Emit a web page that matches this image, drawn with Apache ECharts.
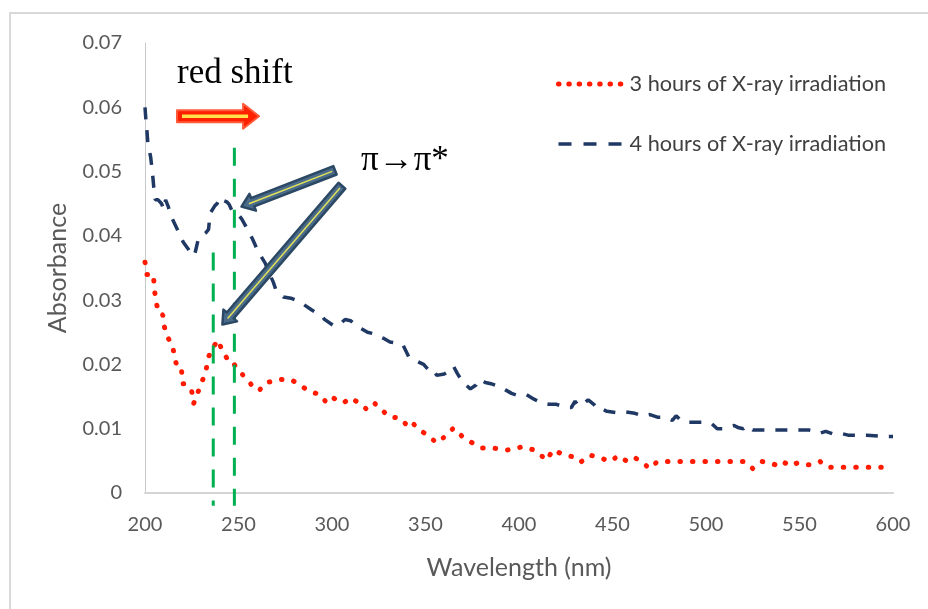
<!DOCTYPE html>
<html>
<head>
<meta charset="utf-8">
<script src="https://cdn.jsdelivr.net/npm/echarts@6/dist/echarts.min.js"></script>
<style>
  html, body { margin: 0; padding: 0; background: #fff; }
  #main { width: 928px; height: 609px; }
</style>
</head>
<body>
<div id="main"></div>
<script>
// series names
var seriesNames = ['3 hours of X-ray irradiation', '4 hours of X-ray irradiation'];

// 3 hours (red dots), wavelength in nm / absorbance
var wl3h = [200, 201, 204.5, 205, 206, 207.5, 209.5, 210, 211, 212, 214.8, 216, 218, 219.6, 220.2, 221.4,
  225, 226, 230.3, 232.6, 233.5, 235.7, 239.2, 241, 243.7, 245.5, 249, 253.5, 257, 261, 264.2, 266.8,
  270.4, 274.4, 278.4, 283.8, 288.2, 293.6, 297.2, 300.5, 306, 310, 315, 319, 323, 327, 331, 336, 341,
  343, 347, 351, 356, 358, 360, 365, 370, 375, 380, 386, 394, 402, 408, 415, 418, 422, 429, 433, 438,
  443, 449, 453, 458, 462, 466, 470, 474, 480, 486, 494, 501, 507, 514, 521, 525, 530, 535, 538, 541,
  545, 549, 553, 557, 561, 565, 573, 580, 586, 592, 600];
var ab3h = [0.0359, 0.0340, 0.0340, 0.0317, 0.0296, 0.0279, 0.0277, 0.0262, 0.0262, 0.0243, 0.0228, 0.0208,
  0.0189, 0.0189, 0.0170, 0.0170, 0.0158, 0.0139, 0.0172, 0.0189, 0.0208, 0.0224, 0.0238, 0.0223, 0.0210,
  0.0210, 0.0194, 0.0180, 0.0168, 0.0159, 0.0171, 0.0173, 0.0176, 0.0177, 0.0176, 0.0166, 0.0158, 0.0153,
  0.0140, 0.0148, 0.0140, 0.0148, 0.0139, 0.0129, 0.0139, 0.0128, 0.0118, 0.0117, 0.0103, 0.0109, 0.0098,
  0.0090, 0.0078, 0.0082, 0.0087, 0.0101, 0.0087, 0.0078, 0.0070, 0.0070, 0.0067, 0.0072, 0.0067, 0.0051,
  0.0067, 0.0062, 0.0056, 0.0048, 0.0059, 0.0055, 0.0049, 0.0058, 0.0049, 0.0055, 0.0047, 0.0038, 0.0049,
  0.0049, 0.0049, 0.0049, 0.0049, 0.0049, 0.0049, 0.0049, 0.0038, 0.0049, 0.0046, 0.0043, 0.0049, 0.0042,
  0.0047, 0.0044, 0.0044, 0.0049, 0.0040, 0.0040, 0.0040, 0.0040, 0.0040, 0.0040];

// 4 hours (navy dashes)
var wl4h = [200, 200.5, 201, 201.5, 203, 204, 204.8, 205.5, 207, 208.9, 210, 211, 212.5, 213.5, 217, 220.5,
  223, 225, 226.5, 228.5, 230, 232.6, 234, 234.8, 237.4, 238.5, 240.1, 242, 243.7, 245, 246.4, 248, 250,
  252, 255.2, 257.5, 260.6, 264.2, 266, 268.6, 270, 274, 278, 283, 289, 295, 296, 301, 304, 307, 310, 313,
  316, 319, 322, 324.6, 328, 331, 335, 338, 341, 346, 349, 352, 354, 356, 360, 363, 365, 367, 370, 374,
  377, 379, 382, 385, 388, 390, 393, 396, 399, 404, 408, 412, 416, 420, 423, 426, 428, 430, 431.5, 435,
  437, 440, 442, 445, 447, 452, 457, 462, 466, 470, 474, 478, 482, 484, 487, 490, 494, 498, 503, 506, 509,
  512, 515, 517, 520, 522, 525, 534, 540, 549, 555, 558, 561, 564, 568, 572, 576, 580, 586, 590, 594, 600];
var ab4h = [0.0600, 0.0580, 0.0565, 0.0545, 0.0523, 0.0498, 0.0472, 0.0456, 0.0456, 0.0450, 0.0441, 0.0456,
  0.0445, 0.0433, 0.0412, 0.0390, 0.0380, 0.0370, 0.0370, 0.0395, 0.0399, 0.0405, 0.0410, 0.0435, 0.0447,
  0.0450, 0.0460, 0.0455, 0.0453, 0.0449, 0.0440, 0.0435, 0.0433, 0.0425, 0.0408, 0.0395, 0.0375, 0.0358,
  0.0345, 0.0328, 0.0316, 0.0305, 0.0303, 0.0297, 0.0285, 0.0274, 0.0270, 0.0260, 0.0262, 0.0270, 0.0268,
  0.0260, 0.0255, 0.0250, 0.0248, 0.0244, 0.0240, 0.0235, 0.0233, 0.0230, 0.0212, 0.0204, 0.0200, 0.0190,
  0.0192, 0.0183, 0.0185, 0.0190, 0.0197, 0.0186, 0.0172, 0.0162, 0.0168, 0.0177, 0.0172, 0.0170, 0.0167,
  0.0165, 0.0160, 0.0155, 0.0152, 0.0153, 0.0146, 0.0140, 0.0138, 0.0138, 0.0135, 0.0133, 0.0133, 0.0143,
  0.0136, 0.0140, 0.0145, 0.0138, 0.0130, 0.0130, 0.0127, 0.0125, 0.0126, 0.0124, 0.0120, 0.0122, 0.0118,
  0.0118, 0.0113, 0.0120, 0.0112, 0.0110, 0.0110, 0.0110, 0.0108, 0.0100, 0.0100, 0.0103, 0.0105, 0.0102,
  0.0100, 0.0105, 0.0098, 0.0098, 0.0098, 0.0098, 0.0098, 0.0096, 0.0093, 0.0096, 0.0092, 0.0093, 0.0090,
  0.0090, 0.0090, 0.0089, 0.0088, 0.0088];

function zip(xs, ys) {
  return xs.map(function (x, i) { return [x, ys[i]]; });
}

var labelFont = 'Lato';
var chart = echarts.init(document.getElementById('main'));

chart.setOption({
  animation: false,
  backgroundColor: '#fff',
  grid: { left: 145, right: 35, top: 43, bottom: 116 },
  legend: {
    orient: 'vertical',
    left: 556,
    top: 73,
    padding: 0,
    itemWidth: 66,
    itemHeight: 10,
    itemGap: 38,
    textStyle: { fontFamily: labelFont, fontSize: 21.7, color: '#404040' },
    itemStyle: { opacity: 0 },
    lineStyle: { width: 'inherit' },
    data: [
      { name: seriesNames[0], lineStyle: { type: [0.5, 9.8] } },
      { name: seriesNames[1], lineStyle: { type: [13, 12] } }
    ]
  },
  xAxis: {
    type: 'value',
    min: 200, max: 600, interval: 50,
    name: 'Wavelength (nm)',
    nameLocation: 'middle',
    nameGap: 62,
    nameTextStyle: { fontFamily: labelFont, fontSize: 25, color: '#595959' },
    axisLine: { show: true, lineStyle: { color: '#d4d4d4', width: 2 } },
    axisTick: { show: false },
    splitLine: { show: false },
    axisLabel: { fontFamily: labelFont, fontSize: 20, color: '#595959', margin: 22 }
  },
  yAxis: {
    type: 'value',
    min: 0, max: 0.07, interval: 0.01,
    name: 'Absorbance',
    nameLocation: 'middle',
    nameGap: 75,
    nameTextStyle: { fontFamily: labelFont, fontSize: 25, color: '#595959' },
    axisLine: { show: true, lineStyle: { color: '#c8c8c8', width: 1 } },
    axisTick: { show: false },
    splitLine: { show: false },
    axisLabel: { fontFamily: labelFont, fontSize: 20, color: '#595959', margin: 23 }
  },
  series: [
    {
      name: seriesNames[0],
      type: 'line',
      symbol: 'none',
      data: zip(wl3h, ab3h),
      lineStyle: { color: '#ff1a00', width: 5, type: [0.5, 12], cap: 'round' },
      itemStyle: { color: '#ff1a00' },
      z: 3
    },
    {
      name: seriesNames[1],
      type: 'line',
      symbol: 'none',
      data: zip(wl4h, ab4h),
      lineStyle: { color: '#1f3864', width: 3.5, type: [12, 11] },
      itemStyle: { color: '#1f3864' },
      z: 2
    }
  ]
});

function px(x, y) {
  return chart.convertToPixel({ gridIndex: 0 }, [x, y]);
}

// arrow outline as a polygon from tail to tip
function arrowPoints(tail, tip, bodyHalf, headHalf, headLen) {
  var dx = tip[0] - tail[0], dy = tip[1] - tail[1];
  var len = Math.sqrt(dx * dx + dy * dy);
  var ux = dx / len, uy = dy / len, nx = -uy, ny = ux;
  var bx = tip[0] - ux * headLen, by = tip[1] - uy * headLen;
  return [
    [tail[0] + nx * bodyHalf, tail[1] + ny * bodyHalf],
    [bx + nx * bodyHalf, by + ny * bodyHalf],
    [bx + nx * headHalf, by + ny * headHalf],
    tip,
    [bx - nx * headHalf, by - ny * headHalf],
    [bx - nx * bodyHalf, by - ny * bodyHalf],
    [tail[0] - nx * bodyHalf, tail[1] - ny * bodyHalf]
  ];
}

function innerLine(tail, tip, startOff, endOff) {
  var dx = tip[0] - tail[0], dy = tip[1] - tail[1];
  var len = Math.sqrt(dx * dx + dy * dy);
  var ux = dx / len, uy = dy / len;
  return {
    x1: tail[0] + ux * startOff, y1: tail[1] + uy * startOff,
    x2: tip[0] - ux * endOff, y2: tip[1] - uy * endOff
  };
}

var graphics = [];

// outer chart frame
graphics.push({
  type: 'rect', z: 0,
  shape: { x: 10, y: 13, width: 940, height: 640 },
  style: { fill: 'none', stroke: '#d9d9d9', lineWidth: 2 }
});

// green peak markers
[[236.5, 0.0374], [247.8, 0.0537]].forEach(function (m) {
  var a = px(m[0], m[1]), b = px(m[0], -0.002);
  graphics.push({
    type: 'line', z: 50,
    shape: { x1: a[0], y1: a[1], x2: b[0], y2: b[1] },
    style: { stroke: '#00b050', lineWidth: 3, lineDash: [18, 13] }
  });
});

// red shift arrow
var rsTail = px(217.1, 0.0586), rsTip = px(261, 0.0586);
graphics.push({
  type: 'polygon', z: 60,
  shape: { points: arrowPoints(rsTail, rsTip, 6, 12.5, 16) },
  style: { fill: '#ff2000', stroke: '#ff5a3a', lineWidth: 2, lineJoin: 'round' }
});
graphics.push({
  type: 'line', z: 61,
  shape: innerLine(rsTail, rsTip, 5, 11),
  style: { stroke: '#ffe14a', lineWidth: 3.5 }
});

// pi -> pi* callout arrows
[[[301.6, 0.0502], [251.6, 0.04455]], [[305.3, 0.0478], [241.4, 0.0262]]].forEach(function (a) {
  var tail = px(a[0][0], a[0][1]), tip = px(a[1][0], a[1][1]);
  graphics.push({
    type: 'polygon', z: 60,
    shape: { points: arrowPoints(tail, tip, 4.5, 9, 12) },
    style: { fill: '#4b6b8a', stroke: '#2b4864', lineWidth: 2.5, lineJoin: 'round' }
  });
  graphics.push({
    type: 'line', z: 61,
    shape: innerLine(tail, tip, 3, 8),
    style: { stroke: '#e2e25a', lineWidth: 1.5 }
  });
});

// annotation texts
var rsText = px(217.1, 0.0652);
graphics.push({
  type: 'text', z: 70, x: rsText[0], y: rsText[1],
  style: { text: 'red shift', fontFamily: 'Liberation Serif', fontSize: 35, fill: '#000', verticalAlign: 'middle' }
});
var piText = px(315.5, 0.0516);
graphics.push({
  type: 'text', z: 70, x: piText[0], y: piText[1],
  style: { text: 'π→π*', fontFamily: 'Liberation Serif', fontSize: 35, fill: '#000', verticalAlign: 'middle' }
});

chart.setOption({ graphic: graphics });
</script>
</body>
</html>
